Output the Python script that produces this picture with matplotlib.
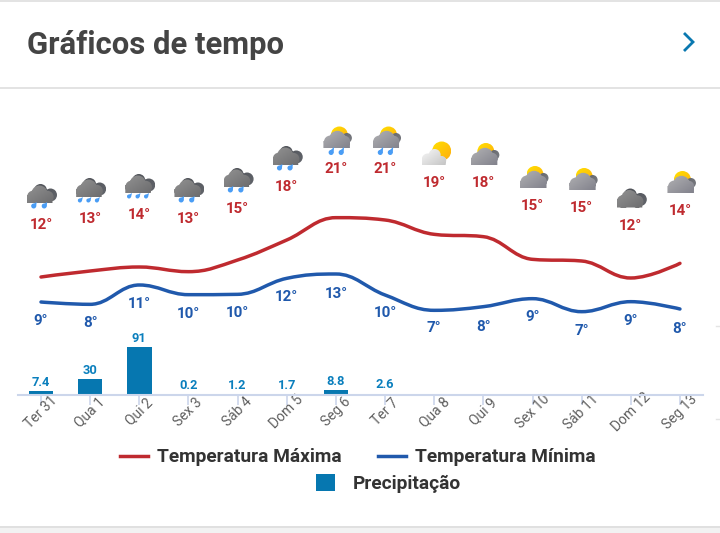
import numpy as np
import matplotlib
matplotlib.use("Agg")
import matplotlib.pyplot as plt
from matplotlib.path import Path
from matplotlib.patches import PathPatch, Circle, Polygon, Rectangle, Patch
from matplotlib.lines import Line2D
from matplotlib.transforms import blended_transform_factory, Affine2D

plt.rcParams['font.family'] = ['Roboto', 'DejaVu Sans']

# ---------- data ----------
days = ['Ter 31', 'Qua 1', 'Qui 2', 'Sex 3', 'Sáb 4', 'Dom 5', 'Seg 6',
        'Ter 7', 'Qua 8', 'Qui 9', 'Sex 10', 'Sáb 11', 'Dom 12', 'Seg 13']
temp_max_curve = [12.0, 12.9, 13.5, 12.8, 14.55, 17.55, 20.9, 20.55, 18.4, 18.05, 14.65, 14.4, 11.85, 14.05]
temp_min_curve = [8.25, 7.9, 10.8, 9.35, 9.4, 11.8, 12.45, 9.3, 7.0, 7.55, 8.75, 6.8, 8.3, 7.2]
temp_max_labels = [12, 13, 14, 13, 15, 18, 21, 21, 19, 18, 15, 15, 12, 14]
temp_min_labels = [9, 8, 11, 10, 10, 12, 13, 10, 7, 8, 9, 7, 9, 8]
precip = [7.4, 30, 91, 0.2, 1.2, 1.7, 8.8, 2.6]
precip_labels = ['7.4', '30', '91', '0.2', '1.2', '1.7', '8.8', '2.6']
icons = ['rain2', 'rain3', 'rain3', 'rain2', 'rain2', 'rain2', 'sunrain', 'sunrain',
         'sunwhite', 'suncloud', 'suncloud', 'suncloud', 'cloud', 'suncloud']

# ---------- layout (pixel rows of the labels) ----------
max_label_row = [224, 218, 214, 218, 208, 186, 168, 168, 182, 182, 205, 207, 225, 210]
min_label_row = [320, 322, 303, 313, 312, 296, 293, 312, 327, 326, 316, 330, 320, 328]
W, H = 720, 533
X0, DX = 41.0, 49.15
Y_T12, PX_PER_DEG = 277.0, 6.667
BASE_Y, PX_PER_MM = 395.0, 0.523
RED, BLUE, BAR = '#bf2a2f', '#2059ac', '#0677b0'

fig = plt.figure(figsize=(W / 100, H / 100), dpi=100, facecolor='white')

xlim = ((0 - X0) / DX, (W - X0) / DX)
x = np.arange(len(days))

# page layer in pixels
pix = fig.add_axes([0, 0, 1, 1])
pix.set_axis_off()
pix.set_autoscale_on(False)
pix.set_xlim(0, W)
pix.set_ylim(H, 0)

# temperature layer
ax = fig.add_axes([0, 0, 1, 1])
ax.set_axis_off()
ax.patch.set_alpha(0)
ax.set_xlim(*xlim)
ax.set_ylim(12 + (Y_T12 - H) / PX_PER_DEG, 12 + Y_T12 / PX_PER_DEG)

# precipitation layer with the x axis
axp_h = 100
axp = fig.add_axes([0, (H - BASE_Y) / H, 1, axp_h / H])
axp.patch.set_alpha(0)
axp.set_xlim(*xlim)
axp.set_ylim(0, axp_h / PX_PER_MM)


# page chrome
for (y0, y1, c) in [(0, 2, '#e3e3e3'), (87, 88.5, '#e3e3e3'), (526, 527.5, '#e0e0e0'), (527.5, 533, '#f2f2f2')]:
    pix.add_patch(Rectangle((0, y0), W, y1 - y0, fc=c, ec='none'))
pix.text(27, 45, 'Gráficos de tempo', fontsize=22.4, fontweight='bold', color='#444444', va='center', ha='left')
pix.plot([684, 693, 684], [33, 42, 51], color='#0a78b0', lw=2.0, solid_joinstyle='miter', solid_capstyle='butt')
pix.plot([716, 720], [325.5, 325.5], color='#e4e4e4', lw=1)
pix.plot([716, 720], [418.5, 418.5], color='#e4e4e4', lw=1)


def spline_path(xs, ys, smoothing=1.5):
    """Cubic segments through the values, with the same control rule as a Highcharts spline."""
    n = len(xs)
    denom = smoothing + 1
    left = [None] * n
    right = [None] * n
    right[0] = (xs[0], ys[0])
    left[-1] = (xs[-1], ys[-1])
    for i in range(1, n - 1):
        lx = (smoothing * xs[i] + xs[i - 1]) / denom
        ly = (smoothing * ys[i] + ys[i - 1]) / denom
        rx = (smoothing * xs[i] + xs[i + 1]) / denom
        ry = (smoothing * ys[i] + ys[i + 1]) / denom
        corr = (ry - ly) * (rx - xs[i]) / (rx - lx) + ys[i] - ry
        ly += corr
        ry += corr
        if ly > ys[i - 1] and ly > ys[i]:
            ly = max(ys[i - 1], ys[i]); ry = 2 * ys[i] - ly
        elif ly < ys[i - 1] and ly < ys[i]:
            ly = min(ys[i - 1], ys[i]); ry = 2 * ys[i] - ly
        if ry > ys[i + 1] and ry > ys[i]:
            ry = max(ys[i + 1], ys[i]); ly = 2 * ys[i] - ry
        elif ry < ys[i + 1] and ry < ys[i]:
            ry = min(ys[i + 1], ys[i]); ly = 2 * ys[i] - ry
        left[i] = (lx, ly)
        right[i] = (rx, ry)
    verts = [(xs[0], ys[0])]
    codes = [Path.MOVETO]
    for i in range(1, n):
        verts += [right[i - 1], left[i], (xs[i], ys[i])]
        codes += [Path.CURVE4] * 3
    return Path(verts, codes)


for vals, col in [(temp_max_curve, RED), (temp_min_curve, BLUE)]:
    ax.add_patch(PathPatch(spline_path(x, vals), fc='none', ec=col, lw=2.5, capstyle='round', joinstyle='round'))

# temperature labels
tr = blended_transform_factory(ax.transData, pix.transData)
for i in x:
    ax.text(i, max_label_row[i] + 0.8, f'{temp_max_labels[i]}°', transform=tr, color=RED, fontsize=10.9,
            fontweight='bold', ha='center', va='center')
    ax.text(i, min_label_row[i] + 0.8, f'{temp_min_labels[i]}°', transform=tr, color=BLUE, fontsize=10.9,
            fontweight='bold', ha='center', va='center')


# weather icons
def gradient(c0, c1, n=24):
    c0 = np.array(matplotlib.colors.to_rgb(c0))
    c1 = np.array(matplotlib.colors.to_rgb(c1))
    t = np.add.outer(np.linspace(0, 1, n), np.linspace(0, 1, n)) / 2
    return c0[None, None, :] * (1 - t[..., None]) + c1[None, None, :] * t[..., None]


def blob(cx, cy, circles, rect, c0, c1, z):
    parts = [Path.circle((cx + a, cy + b), r) for a, b, r in circles]
    if rect is not None:
        a0, a1, b0, b1 = rect
        parts.append(Path.unit_rectangle().transformed(
            Affine2D().scale(a1 - a0, b1 - b0).translate(cx + a0, cy + b0)))
    path = Path.make_compound_path(*parts)
    ext = path.get_extents()
    im = pix.imshow(gradient(c0, c1), extent=(ext.x0, ext.x1, ext.y1, ext.y0), aspect='auto',
                    interpolation='bilinear', zorder=z)
    im.set_clip_path(path, pix.transData)


def drop(cx, cy, dx, y0, y1, s=1.0):
    col = '#4a9df5'
    bx = cx + dx
    r = 2.5 * s
    pix.add_patch(Circle((bx - 0.8, y1 - r), r, fc=col, ec='none', zorder=5))
    pix.add_patch(Polygon([(bx + 2.2, y0), (bx - 3.2 * s, y1 - r - 0.6), (bx + 1.6 * s, y1 - r + 0.6)],
                          fc=col, ec='none', zorder=5))


def sun(cx, cy, a, b, r):
    blob(cx, cy, [(a, b, r)], None, '#ffe000', '#ffae10', 3)


def dark_cloud(cx, cy, shift):
    s = shift
    blob(cx, cy, [(-1, -33.5 + s, 6.5), (9, -29 + s, 6.5)], (-3, 12, -32 + s, -26 + s), '#4e5157', '#62656b', 3)
    blob(cx, cy, [(-8, -27 + s, 6.5), (-2, -30.5 + s, 8), (6, -27 + s, 6.2)],
         (-14.5, 11, -29 + s, -21 + s), '#929292', '#6c6c6e', 4)


def pale_cloud(cx, cy, shift):
    s = shift
    blob(cx, cy, [(10.5, -27 + s, 5)], None, '#66686e', '#7a7c82', 4)
    blob(cx, cy, [(-6, -23 + s, 6.5), (1, -26 + s, 8.2), (8, -23.5 + s, 5.8)],
         (-13, 13.5, -24 + s, -17 + s), '#b2b2b4', '#82828c', 5)


for i, kind in enumerate(icons):
    cx = X0 + DX * i + 0.5
    cy = max_label_row[i]
    if kind in ('rain2', 'rain3'):
        dark_cloud(cx, cy, 0)
        if kind == 'rain2':
            drop(cx, cy, -7, cy - 22, cy - 15.5)
            drop(cx, cy, 3.5, cy - 22, cy - 15.5)
        else:
            drop(cx, cy, -10, cy - 21, cy - 15.5, 0.8)
            drop(cx, cy, -1.5, cy - 21, cy - 15.5, 0.8)
            drop(cx, cy, 7, cy - 21, cy - 15.5, 0.8)
    elif kind == 'cloud':
        dark_cloud(cx, cy, 3.5)
    elif kind == 'suncloud':
        sun(cx, cy, 2, -30.5, 8.5)
        pale_cloud(cx, cy, 0)
    elif kind == 'sunrain':
        sun(cx, cy, 3, -33, 8.5)
        pale_cloud(cx, cy, -3)
        drop(cx, cy, -4.5, cy - 21, cy - 13)
        drop(cx, cy, 5.5, cy - 21, cy - 13)
    elif kind == 'sunwhite':
        sun(cx, cy, 7, -31, 9.5)
        blob(cx, cy, [(-7, -22.5, 6), (0, -27, 6), (7, -21.5, 4.5)], (-13, 11, -24, -16.5),
             '#f8f8f8', '#c4c4c4', 5)

pix.set_xlim(0, W)
pix.set_ylim(H, 0)

# precipitation
bars = axp.bar(x[:len(precip)], precip, width=0.5, color=BAR, zorder=1.5)
axp.bar_label(bars, labels=precip_labels, padding=1.8, color='#0a7fbd', fontsize=9.3, fontweight='bold', clip_on=False)

# x axis
for s in ('top', 'left', 'right'):
    axp.spines[s].set_visible(False)
axp.spines['bottom'].set_color('#ccd6eb')
axp.spines['bottom'].set_linewidth(1.5)
axp.spines['bottom'].set_bounds((17.5 - X0) / DX, (703 - X0) / DX)
axp.set_yticks([])
axp.set_xticks(x)
axp.set_xticklabels(days)
axp.tick_params(axis='x', length=7.2, width=1.2, color='#ccd6eb', pad=5, labelsize=10, labelcolor='#5f5f5f')
for lab in axp.get_xticklabels():
    lab.set_rotation(45)
    lab.set_ha('center')
    lab.set_va('center')

# legends
LEG_SIZE = 13.8
leg1 = pix.legend(handles=[Line2D([], [], color=RED, lw=2.5, label='Temperatura Máxima'),
                           Line2D([], [], color=BLUE, lw=2.5, label='Temperatura Mínima')],
                  loc='center', bbox_to_anchor=(358, 457.5), bbox_transform=pix.transData, ncol=2, frameon=False,
                  borderpad=0, handlelength=1.46, handletextpad=0.47, columnspacing=1.88,
                  labelcolor='#333333', prop={'family': 'Roboto', 'weight': 'bold', 'size': LEG_SIZE})
pix.add_artist(leg1)
pix.legend(handles=[Patch(fc=BAR, ec='none', label='Precipitação')],
           loc='center', bbox_to_anchor=(388.5, 483.5), bbox_transform=pix.transData, frameon=False,
           borderpad=0, handlelength=0.99, handleheight=0.99, handletextpad=0.88,
           labelcolor='#333333', prop={'family': 'Roboto', 'weight': 'bold', 'size': LEG_SIZE})

fig.savefig('out.png', dpi=100, facecolor='white')
